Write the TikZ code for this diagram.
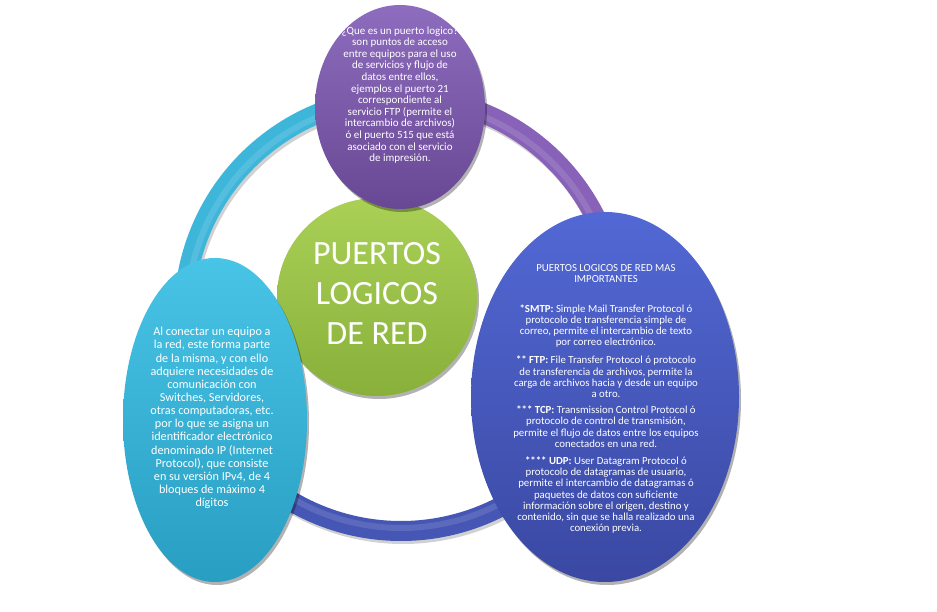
\documentclass[tikz,border=0pt]{standalone}
\usepackage{fontspec}
\setmainfont{Carlito}
\usetikzlibrary{shapes.geometric,shadows}
\definecolor{purA}{RGB}{142,108,190}
\definecolor{purB}{RGB}{104,72,148}
\definecolor{grnA}{RGB}{170,208,86}
\definecolor{grnB}{RGB}{136,176,58}
\definecolor{cyaA}{RGB}{72,196,230}
\definecolor{cyaB}{RGB}{40,158,194}
\definecolor{bluA}{RGB}{82,104,212}
\definecolor{bluB}{RGB}{58,72,162}
\definecolor{ringC}{RGB}{62,182,218}
\definecolor{ringP}{RGB}{136,98,184}
\definecolor{ringB}{RGB}{70,86,180}
\begin{document}
\begin{tikzpicture}[x=1pt,y=1pt,
  bubble/.style={ellipse, inner sep=0pt, draw=none,
    drop shadow={shadow xshift=2pt,shadow yshift=-3pt,opacity=0.3,fill=black}},
  ringarc/.style={line width=20pt},
  ringhi/.style={line width=6pt, white, opacity=0.12},
  ringshadow/.style={line width=20pt, black, opacity=0.18},
  txt/.style={text=white, align=center, inner sep=0pt}]
\fill[white] (0,0) rectangle (937,611);
\useasboundingbox (0,0) rectangle (937,611);
\coordinate (rc) at (401,297);
\coordinate (rcs) at (403,294);
% ring shadow
\draw[ringshadow] ([shift={(215:217pt)}]rcs) arc[start angle=215, end angle=95, radius=217pt];
\draw[ringshadow] ([shift={(85:217pt)}]rcs) arc[start angle=85, end angle=-30, radius=217pt];
\draw[ringshadow] ([shift={(-30:217pt)}]rcs) arc[start angle=-30, end angle=-145, radius=217pt];
% ring arcs
\draw[ringarc, ringC] ([shift={(215:217pt)}]rc) arc[start angle=215, end angle=95, radius=217pt];
\draw[ringarc, ringP] ([shift={(85:217pt)}]rc) arc[start angle=85, end angle=-30, radius=217pt];
\draw[ringarc, ringB] ([shift={(-30:217pt)}]rc) arc[start angle=-30, end angle=-145, radius=217pt];
\draw[ringhi] ([shift={(215:214pt)}]rc) arc[start angle=215, end angle=95, radius=214pt];
\draw[ringhi] ([shift={(85:214pt)}]rc) arc[start angle=85, end angle=-30, radius=214pt];
\draw[ringhi] ([shift={(-30:214pt)}]rc) arc[start angle=-30, end angle=-145, radius=214pt];
% nodes
\node[bubble, minimum width=200pt, minimum height=198pt, top color=grnA, bottom color=grnB] (green) at (377,314) {};
\node[bubble, minimum width=184pt, minimum height=324pt, top color=cyaA, bottom color=cyaB] (cyan) at (215,191) {};
\node[bubble, minimum width=268pt, minimum height=370pt, top color=bluA, bottom color=bluB] (blue) at (605,214) {};
\node[bubble, minimum width=170pt, minimum height=204pt, top color=purA, bottom color=purB] (purple) at (400,504) {};
% texts
\node[txt, font=\fontsize{34}{40}\selectfont] (gtext) at (377,318) {PUERTOS\\LOGICOS\\DE RED};
\node[txt, font=\fontsize{11}{11.6}\selectfont] (ptext) at (400,516) {¿Que es un puerto logico?\\son puntos de acceso\\entre equipos para el uso\\de servicios y flujo de\\datos entre ellos,\\ejemplos el puerto 21\\correspondiente al\\servicio FTP (permite el\\intercambio de archivos)\\ó el puerto 515 que está\\asociado con el servicio\\de impresión.};
\node[txt, font=\fontsize{12.2}{13.15}\selectfont] (ctext) at (212,193) {Al conectar un equipo a\\la red, este forma parte\\de la misma, y con ello\\adquiere necesidades de\\comunicación con\\Switches, Servidores,\\otras computadoras, etc.\\por lo que se asigna un\\identificador electrónico\\denominado IP (Internet\\Protocol), que consiste\\en su versión IPv4, de 4\\bloques de máximo 4\\dígitos};
\node[txt, font=\fontsize{10.8}{11.2}\selectfont] (btext) at (606,212) {PUERTOS LOGICOS DE RED MAS\\IMPORTANTES\\[18pt]\textbf{*SMTP:} Simple Mail Transfer Protocol ó\\protocolo de transferencia simple de\\correo, permite el intercambio de texto\\por correo electrónico.\\[7pt]\textbf{** FTP:} File Transfer Protocol ó protocolo\\de transferencia de archivos, permite la\\carga de archivos hacia y desde un equipo\\a otro.\\[5pt]\textbf{*** TCP:} Transmission Control Protocol ó\\protocolo de control de transmisión,\\permite el flujo de datos entre los equipos\\conectados en una red.\\[6pt]\textbf{**** UDP:} User Datagram Protocol ó\\protocolo de datagramas de usuario,\\permite el intercambio de datagramas ó\\paquetes de datos con suficiente\\información sobre el origen, destino y\\contenido, sin que se halla realizado una\\conexión previa.};
\end{tikzpicture}
\end{document}
